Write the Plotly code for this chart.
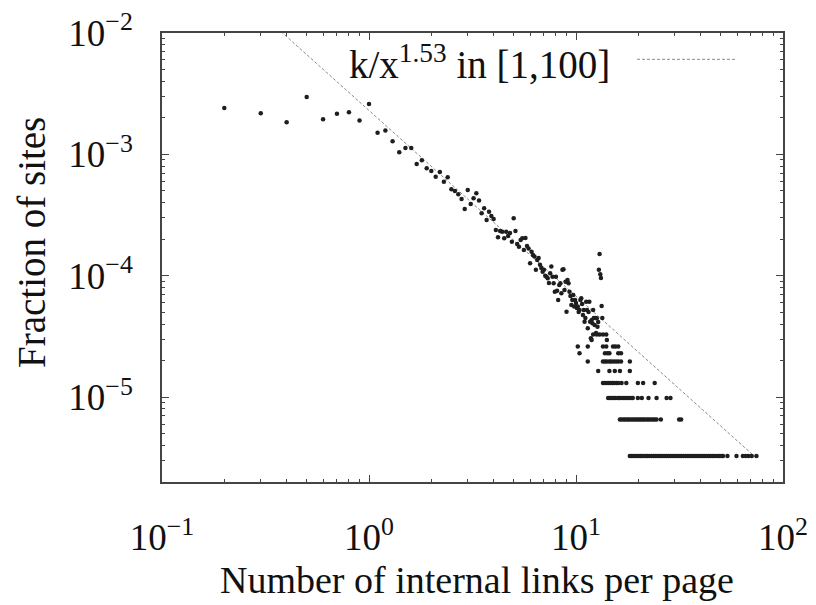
import plotly.graph_objects as go

# ---- data: histogram of internal links per page (fraction of sites) ----
head_x = [0.2, 0.3, 0.4, 0.5, 0.6, 0.7, 0.8, 0.9, 1.0,
          1.1, 1.2, 1.3, 1.4, 1.5, 1.6, 1.7, 1.8, 1.9, 2.0,
          2.1, 2.2, 2.3, 2.4, 2.5, 2.6, 2.7, 2.8, 2.9, 3.0,
          3.1, 3.2, 3.3, 3.4, 3.5, 3.6, 3.7, 3.8, 3.9, 4.0,
          4.1, 4.2, 4.3, 4.4, 4.5, 4.6, 4.7, 4.8, 4.9, 5.0,
          5.1, 5.2, 5.3, 5.4, 5.5, 5.6, 5.7, 5.8, 5.9, 6.0,
          6.1, 6.2, 6.3, 6.4, 6.5, 6.6, 6.7, 6.8, 6.9, 7.0,
          7.1, 7.2, 7.3, 7.4, 7.5, 7.6, 7.7, 7.8, 7.9, 8.0,
          8.1, 8.2, 8.3, 8.4, 8.5, 8.6, 8.7, 8.8, 8.9, 9.0,
          9.1, 9.2, 9.3, 9.4, 9.5, 9.6, 9.7, 9.8, 9.9, 10.0,
          10.1, 10.2, 10.3, 10.4, 10.5, 10.6, 10.7, 10.8, 10.9, 11.0,
          11.1, 11.2, 11.3, 11.4, 11.5, 11.6, 11.7, 11.8, 11.9, 12.0,
          12.1, 12.2, 12.3, 12.4, 12.5, 12.6, 12.7, 12.8, 12.9, 13.0,
          13.1, 13.2, 13.3, 13.4]
head_y = [2.41e-3, 2.18e-3, 1.84e-3, 2.97e-3, 1.95e-3, 2.16e-3, 2.22e-3, 1.90e-3, 2.60e-3,
          1.51e-3, 1.57e-3, 1.28e-3, 1.04e-3, 1.13e-3, 1.13e-3, 8.34e-4, 8.94e-4, 7.68e-4, 7.30e-4,
          6.55e-4, 7.16e-4, 5.96e-4, 6.48e-4, 5.16e-4, 5.00e-4, 4.69e-4, 4.29e-4, 3.55e-4, 5.09e-4,
          3.90e-4, 4.35e-4, 4.78e-4, 4.16e-4, 3.27e-4, 3.60e-4, 2.88e-4, 3.37e-4, 3.11e-4, 2.94e-4,
          2.38e-4, 2.08e-4, 2.34e-4, 2.31e-4, 2.04e-4, 2.31e-4, 2.13e-4, 2.25e-4, 1.91e-4, 2.98e-4,
          2.34e-4, 1.83e-4, 1.73e-4, 1.97e-4, 2.04e-4, 1.63e-4, 2.05e-4, 1.76e-4, 1.68e-4, 1.27e-4,
          1.58e-4, 1.48e-4, 1.44e-4, 1.12e-4, 1.35e-4, 1.40e-4, 1.23e-4, 1.16e-4, 1.08e-4, 1.12e-4,
          1.00e-4, 9.83e-5, 9.54e-5, 8.72e-5, 1.05e-4, 1.19e-4, 9.83e-5, 8.67e-5, 7.40e-5, 9.83e-5,
          7.54e-5, 6.32e-5, 8.40e-5, 8.67e-5, 7.18e-5, 1.12e-4, 1.13e-4, 7.64e-5, 8.94e-5, 5.06e-5,
          9.23e-5, 8.67e-5, 7.40e-5, 6.82e-5, 5.75e-5, 6.32e-5, 6.95e-5, 5.57e-5, 6.32e-5, 5.97e-5,
          5.43e-5, 5.57e-5, 5.03e-5, 5.23e-5, 6.32e-5, 6.53e-5, 5.86e-5, 4.75e-5, 5.23e-5, 4.19e-5,
          4.49e-5, 6.12e-5, 5.23e-5, 3.70e-5, 5.03e-5, 6.12e-5, 4.19e-5, 3.06e-5, 4.32e-5, 4.06e-5,
          5.23e-5, 4.49e-5, 3.93e-5, 4.49e-5, 3.38e-5, 4.47e-5, 3.81e-5, 4.16e-5, 1.12e-4, 1.51e-4,
          1.03e-4, 9.60e-5, 5.64e-5, 4.49e-5]

# tail: sparse counts sit on discrete levels (1, 2, 3, ... sites)
tail_levels = [3.28e-6, 6.56e-6, 9.84e-6, 1.31e-5, 1.64e-5,
               1.97e-5, 2.30e-5, 2.62e-5, 2.95e-5, 3.28e-5]
tail_x_by_level = [
    [18.2, 18.5, 18.9, 19.3, 19.7, 20.1, 20.5, 20.9, 21.3, 21.8, 22.2, 22.7, 23.2, 23.7,
     24.2, 24.7, 25.2, 25.7, 26.3, 26.9, 27.4, 28.0, 28.6, 29.2, 29.8, 30.5, 31.1, 31.8,
     32.4, 33.1, 33.8, 34.6, 35.3, 36.1, 36.8, 37.6, 38.4, 39.3, 40.1, 41.0, 41.9, 42.8,
     43.7, 44.6, 45.6, 46.5, 47.6, 48.6, 49.6, 50.7, 51.3, 53.9, 59.6, 64.0, 66.0, 68.0,
     70.6, 74.4],
    [16.3, 16.6, 17.0, 17.3, 17.7, 18.0, 18.4, 18.8, 19.2, 19.6, 20.0, 20.4, 20.8, 21.2,
     21.6, 22.1, 22.5, 23.0, 23.5, 24.0, 24.5, 25.7, 31.5, 32.2],
    [14.3, 14.6, 14.9, 15.2, 15.5, 15.9, 16.2, 16.5, 16.9, 17.2, 17.6, 18.0, 18.4, 18.8,
     19.9, 20.8, 22.4, 24.5, 27.4, 28.6],
    [13.5, 13.8, 14.1, 14.4, 14.7, 15.0, 15.3, 15.7, 16.0, 16.6, 17.5, 19.9, 21.1, 24.0],
    [12.8, 14.5, 15.4, 16.3, 18.2],
    [11.4, 13.5, 13.8, 14.1, 14.5, 14.8, 15.2, 15.6, 16.0, 16.5, 18.2],
    [10.4, 13.8, 14.2, 14.5, 16.0, 16.5],
    [10.2, 11.4, 13.5, 14.0, 15.1, 15.5, 16.0],
    [11.9, 14.1],
    [12.1, 12.6, 13.0, 13.5, 14.0],
]

# fitted power law k / x^1.53
fit_k = 2.30e-3
fit_exponent = 1.53
fit_x = [0.1, 74.4]

x_tickvals = [0.1, 1, 10, 100]
x_ticktext = ["10<sup>\u22121</sup>", "10<sup>0</sup>", "10<sup>1</sup>", "10<sup>2</sup>"]
y_tickvals = [1e-5, 1e-4, 1e-3, 1e-2]
y_ticktext = ["10<sup>\u22125</sup>", "10<sup>\u22124</sup>", "10<sup>\u22123</sup>", "10<sup>\u22122</sup>"]

x_title = "Number of internal links per page"
y_title = "Fraction of sites"
legend_label = "k/x<sup>1.53</sup> in [1,100]"

# ---- build ----
pts_x = list(head_x)
pts_y = list(head_y)
for lvl, xs in zip(tail_levels, tail_x_by_level):
    pts_x.extend(xs)
    pts_y.extend([lvl] * len(xs))

fit_y = [fit_k / (v ** fit_exponent) for v in fit_x]

FONT = "Liberation Serif"
AX = "#444444"

fig = go.Figure()
fig.add_trace(go.Scatter(
    x=fit_x, y=fit_y, mode="lines",
    line=dict(color="#8a8a8a", width=1, dash="3px,2px"),
    showlegend=False, hoverinfo="skip"))
fig.add_trace(go.Scatter(
    x=pts_x, y=pts_y, mode="markers",
    marker=dict(symbol="circle", size=4.5, color="#1e1e1e", line=dict(width=0)),
    showlegend=False))

minor_x = [a * 10 ** e for e in (-1, 0, 1) for a in range(2, 10)]
minor_y = [a * 10 ** e for e in (-6, -5, -4, -3) for a in range(2, 10)]

common = dict(
    showline=True, linecolor=AX, linewidth=1.5, mirror="allticks",
    ticks="inside", ticklen=7, tickwidth=1, tickcolor=AX,
    showgrid=False, zeroline=False, automargin=False,
    ticklabeloverflow="allow",
    tickfont=dict(family=FONT, size=37, color="#111111"),
)

fig.update_xaxes(type="log", range=[-1, 2], tickmode="array",
                 tickvals=x_tickvals, ticktext=x_ticktext,
                 minor=dict(tickmode="array", tickvals=minor_x, ticks="inside",
                            ticklen=3.5, tickwidth=1, tickcolor=AX, showgrid=False),
                 ticklabelstandoff=22, **common)
fig.update_yaxes(type="log", range=[-5.699, -2], tickmode="array",
                 tickvals=y_tickvals, ticktext=y_ticktext,
                 minor=dict(tickmode="array", tickvals=minor_y, ticks="inside",
                            ticklen=3.5, tickwidth=1, tickcolor=AX, showgrid=False),
                 ticklabelstandoff=20, **common)

# the page body adds an 8px offset, so the figure is 8px smaller and shifted
W, H = 808, 597
L, R, T, B = 154, 33, 25, 123
pw, ph = W - L - R, H - T - B


def px(sx):
    # screen x (window pixels) -> paper fraction
    return (sx - 8 - L) / pw


def py(sy):
    # screen y (window pixels) -> paper fraction
    return (H - B - (sy - 8)) / ph


fig.add_annotation(text=x_title, xref="paper", yref="paper", x=px(477), y=py(580),
                   xanchor="center", yanchor="middle", showarrow=False,
                   font=dict(family=FONT, size=38, color="#111111"))
fig.add_annotation(text=y_title, xref="paper", yref="paper", x=px(31), y=py(243),
                   xanchor="center", yanchor="middle", textangle=-90, showarrow=False,
                   font=dict(family=FONT, size=39, color="#111111"))
fig.add_annotation(text=legend_label, xref="paper", yref="paper", x=px(612), y=py(62),
                   xanchor="right", yanchor="middle", showarrow=False,
                   font=dict(family=FONT, size=39, color="#111111"))
fig.add_shape(type="line", xref="paper", yref="paper", x0=px(637), x1=px(737),
              y0=py(59.3), y1=py(59.3), line=dict(color="#8a8a8a", width=1, dash="3px,2px"))

fig.update_layout(
    width=W, height=H, margin=dict(l=L, r=R, t=T, b=B, pad=0, autoexpand=False),
    paper_bgcolor="white", plot_bgcolor="white", showlegend=False,
)

fig.write_html("out.html")
